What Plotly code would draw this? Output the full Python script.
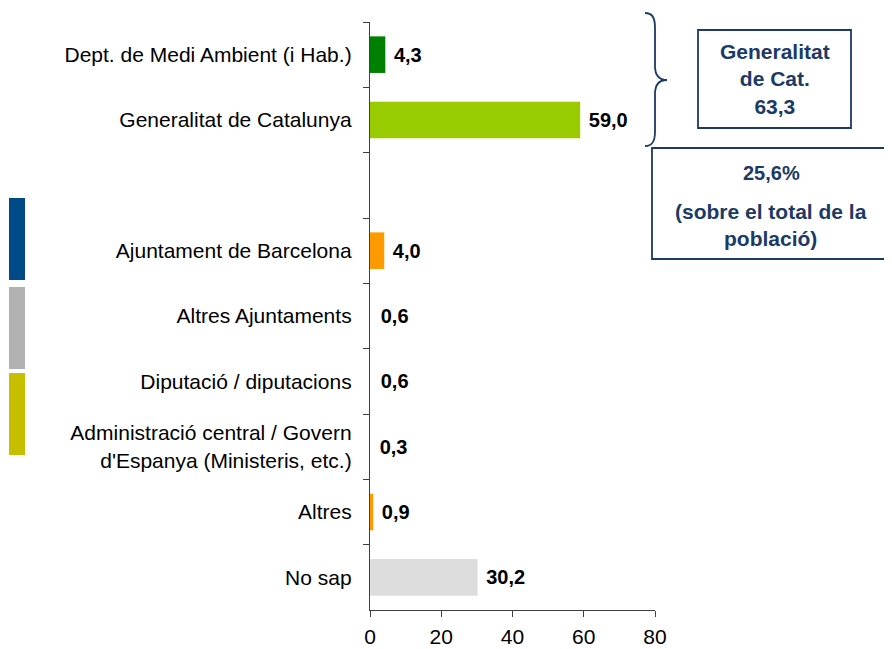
import plotly.graph_objects as go

categories = [
    "Dept. de Medi Ambient (i Hab.)",
    "Generalitat de Catalunya",
    " ",
    "Ajuntament de Barcelona",
    "Altres Ajuntaments",
    "Diputació / diputacions",
    "Administració central / Govern<br>d'Espanya (Ministeris, etc.)",
    "Altres",
    "No sap",
]
values = [4.3, 59.0, None, 4.0, 0.6, 0.6, 0.3, 0.9, 30.2]
bar_colors = ["#008000", "#99CC00", "rgba(0,0,0,0)", "#FF9900", "rgba(0,0,0,0)",
              "rgba(0,0,0,0)", "rgba(0,0,0,0)", "#FF9900", "#DDDDDD"]
x_ticks = [0, 20, 40, 60, 80]

box1_text = "Generalitat<br>de Cat.<br>63,3"
box2_pct = "25,6%"
box2_text = "(sobre el total de la<br>població)"

labels = ["" if v is None else "\u00a0" + f"{v:.1f}".replace(".", ",") for v in values]

NAVY = "#1B3A66"
FONT = "Liberation Sans, Arial, sans-serif"

# page has an 8px body margin: build the figure 8px smaller and shift coords
OFF = 8
W, H = 892 - OFF, 649 - OFF
L, R, T, B = 370 - OFF, 655 - OFF, 22 - OFF, 610 - OFF


def px(x):
    return (x - OFF - L) / (R - L)


def py(y):
    return (B - (y - OFF)) / (B - T)


fig = go.Figure()
fig.add_trace(go.Bar(
    y=categories, x=[0 if v is None else v for v in values], orientation="h",
    marker=dict(color=bar_colors, line=dict(width=0)), width=0.56,
    text=labels, textposition="outside", constraintext="none",
    outsidetextfont=dict(family=FONT, size=20, color="#000000", weight="bold"),
    cliponaxis=False, hoverinfo="skip",
))

shapes = []
# decorative left colour strips
for (y0, y1, c) in [(198, 280, "#004B87"), (287, 369, "#B2B2B2"), (373, 455, "#C8BE00")]:
    shapes.append(dict(type="rect", xref="paper", yref="paper",
                       x0=px(9), x1=px(25), y0=py(y1), y1=py(y0),
                       fillcolor=c, line=dict(width=0), layer="above"))

# brace
pts = f"M {px(645)},{py(13)} C {px(652)},{py(13)} {px(655)},{py(17)} {px(655)},{py(28)} " \
      f"L {px(655)},{py(66)} C {px(655)},{py(75)} {px(659)},{py(80)} {px(667)},{py(80)} " \
      f"C {px(659)},{py(80)} {px(655)},{py(85)} {px(655)},{py(94)} " \
      f"L {px(655)},{py(132)} C {px(655)},{py(142)} {px(652)},{py(146)} {px(645)},{py(146)}"
shapes.append(dict(type="path", xref="paper", yref="paper", path=pts,
                   line=dict(color=NAVY, width=1.8)))

# boxes
shapes.append(dict(type="rect", xref="paper", yref="paper",
                   x0=px(698), x1=px(851), y0=py(128), y1=py(30),
                   line=dict(color=NAVY, width=1.8)))
shapes.append(dict(type="rect", xref="paper", yref="paper",
                   x0=px(652), x1=px(890), y0=py(259), y1=py(148),
                   line=dict(color=NAVY, width=1.8)))

annotations = [
    dict(xref="paper", yref="paper", x=px(775), y=py(79), text=box1_text,
         showarrow=False, xanchor="center", yanchor="middle",
         font=dict(family=FONT, size=21, color=NAVY, weight="bold")),
    dict(xref="paper", yref="paper", x=px(771), y=py(173), text=box2_pct,
         showarrow=False, xanchor="center", yanchor="middle",
         font=dict(family=FONT, size=20, color=NAVY, weight="bold")),
    dict(xref="paper", yref="paper", x=px(771), y=py(225), text=box2_text,
         showarrow=False, xanchor="center", yanchor="middle",
         font=dict(family=FONT, size=21, color=NAVY, weight="bold")),
]

fig.update_layout(
    width=W, height=H,
    margin=dict(l=L, r=W - R, t=T, b=H - B, pad=0, autoexpand=False),
    paper_bgcolor="white", plot_bgcolor="white",
    showlegend=False,
    bargap=0.44,
    shapes=shapes, annotations=annotations,
    font=dict(family=FONT, size=21, color="#000000"),
    xaxis=dict(range=[0, 80], tickvals=x_ticks, ticktext=[str(t) for t in x_ticks],
               showgrid=False, zeroline=False, showline=True, linecolor="#404040",
               linewidth=1.3, ticks="outside", ticklen=6, tickcolor="#404040",
               ticklabelstandoff=2,
               tickfont=dict(size=21, family=FONT, color="#000000"), fixedrange=True),
    yaxis=dict(type="category", categoryorder="array", categoryarray=categories,
               autorange="reversed", tickson="boundaries", ticks="outside",
               ticklen=6, tickcolor="#404040", showline=True, linecolor="#404040",
               linewidth=1.3, showgrid=False, zeroline=False,
               ticklabelstandoff=13,
               tickfont=dict(size=21, family=FONT, color="#000000"), fixedrange=True),
)

fig.write_html("out.html")
